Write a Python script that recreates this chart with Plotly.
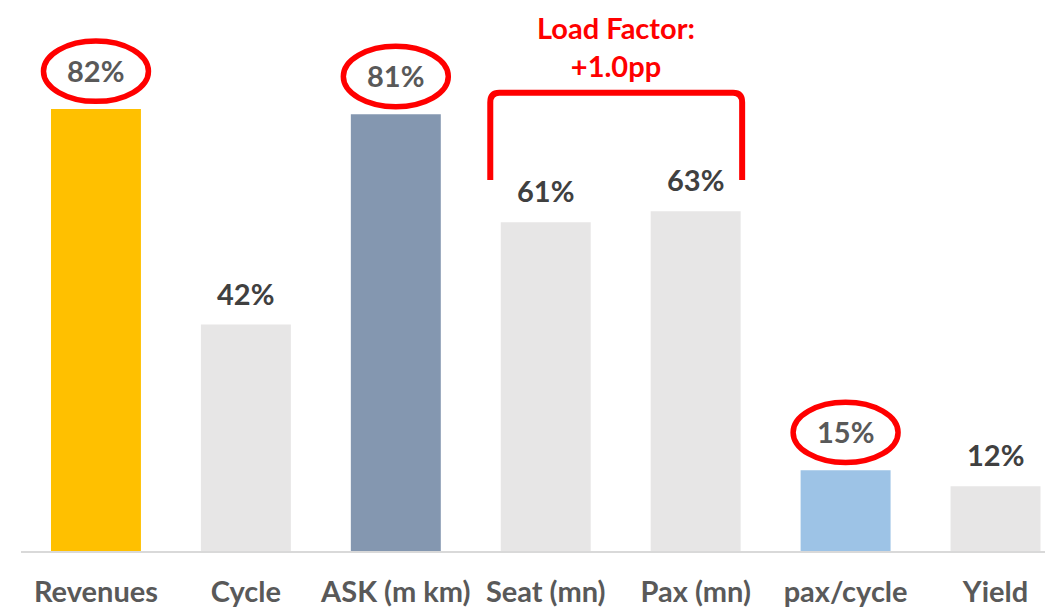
import plotly.graph_objects as go

# Year-over-year change by metric (%)
categories = ["Revenues", "Cycle", "ASK (m km)", "Seat (mn)", "Pax (mn)", "pax/cycle", "Yield"]
values = [82, 42, 81, 61, 63, 15, 12]
bar_colors = ["#FFC000", "#E7E6E6", "#8497B0", "#E7E6E6", "#E7E6E6", "#9DC3E6", "#E7E6E6"]
highlighted = ["Revenues", "ASK (m km)", "pax/cycle"]
bracket_pair = ["Seat (mn)", "Pax (mn)"]
bracket_note = "Load Factor:<br>+1.0pp"

FONT = "Lato"
RED = "#FF0000"

x_idx = list(range(len(categories)))

fig = go.Figure(
    go.Bar(
        x=x_idx,
        y=values,
        marker=dict(color=bar_colors, line=dict(width=0)),
        width=0.6,
        hoverinfo="skip",
    )
)

annotations = []
shapes = []
for i, (cat, v) in enumerate(zip(categories, values)):
    circled = cat in highlighted
    annotations.append(
        dict(
            x=i, y=v, xref="x", yref="y",
            text=f"{v}%",
            showarrow=False,
            yanchor="bottom",
            yshift=19 if circled else 12,
            font=dict(family=FONT, size=29, color="#595959" if circled else "#404040", weight="bold"),
        )
    )
    if circled:
        cy = v + 7
        shapes.append(
            dict(
                type="circle", xref="x", yref="y",
                x0=i - 0.35, x1=i + 0.35,
                y0=cy - 5.6, y1=cy + 5.6,
                line=dict(color=RED, width=5.5),
                layer="above",
            )
        )

# Bracket spanning the seat and passenger bars
i_l = categories.index(bracket_pair[0])
i_r = categories.index(bracket_pair[1])
xl, xr = i_l - 0.37, i_r + 0.31
y_bot, y_top = 68.8, 85.0
dx, dy = 0.06, 1.8
path = (
    f"M {xl},{y_bot} L {xl},{y_top - dy} "
    f"Q {xl},{y_top} {xl + dx},{y_top} "
    f"L {xr - dx},{y_top} "
    f"Q {xr},{y_top} {xr},{y_top - dy} "
    f"L {xr},{y_bot}"
)
shapes.append(dict(type="path", xref="x", yref="y", path=path,
                   line=dict(color=RED, width=6), layer="above"))

annotations.append(
    dict(
        x=(xl + xr) / 2, y=93.6, xref="x", yref="y",
        text=bracket_note,
        showarrow=False,
        yanchor="middle",
        font=dict(family=FONT, size=29, color=RED, weight="bold"),
    )
)

fig.update_layout(
    width=1045,
    height=607,
    margin=dict(l=21, r=0, t=0, b=56),
    paper_bgcolor="white",
    plot_bgcolor="white",
    showlegend=False,
    annotations=annotations,
    shapes=shapes,
    xaxis=dict(
        range=[-0.5, 6.33],
        tickvals=x_idx,
        ticktext=categories,
        showgrid=False,
        zeroline=False,
        showline=True,
        linecolor="#D9D9D9",
        linewidth=2,
        ticks="",
        tickfont=dict(family=FONT, size=29, color="#595959", weight="bold"),
        ticklabelstandoff=14,
    ),
    yaxis=dict(
        range=[0, 102.2],
        visible=False,
        showgrid=False,
        zeroline=False,
    ),
)

fig.write_html("out.html")
